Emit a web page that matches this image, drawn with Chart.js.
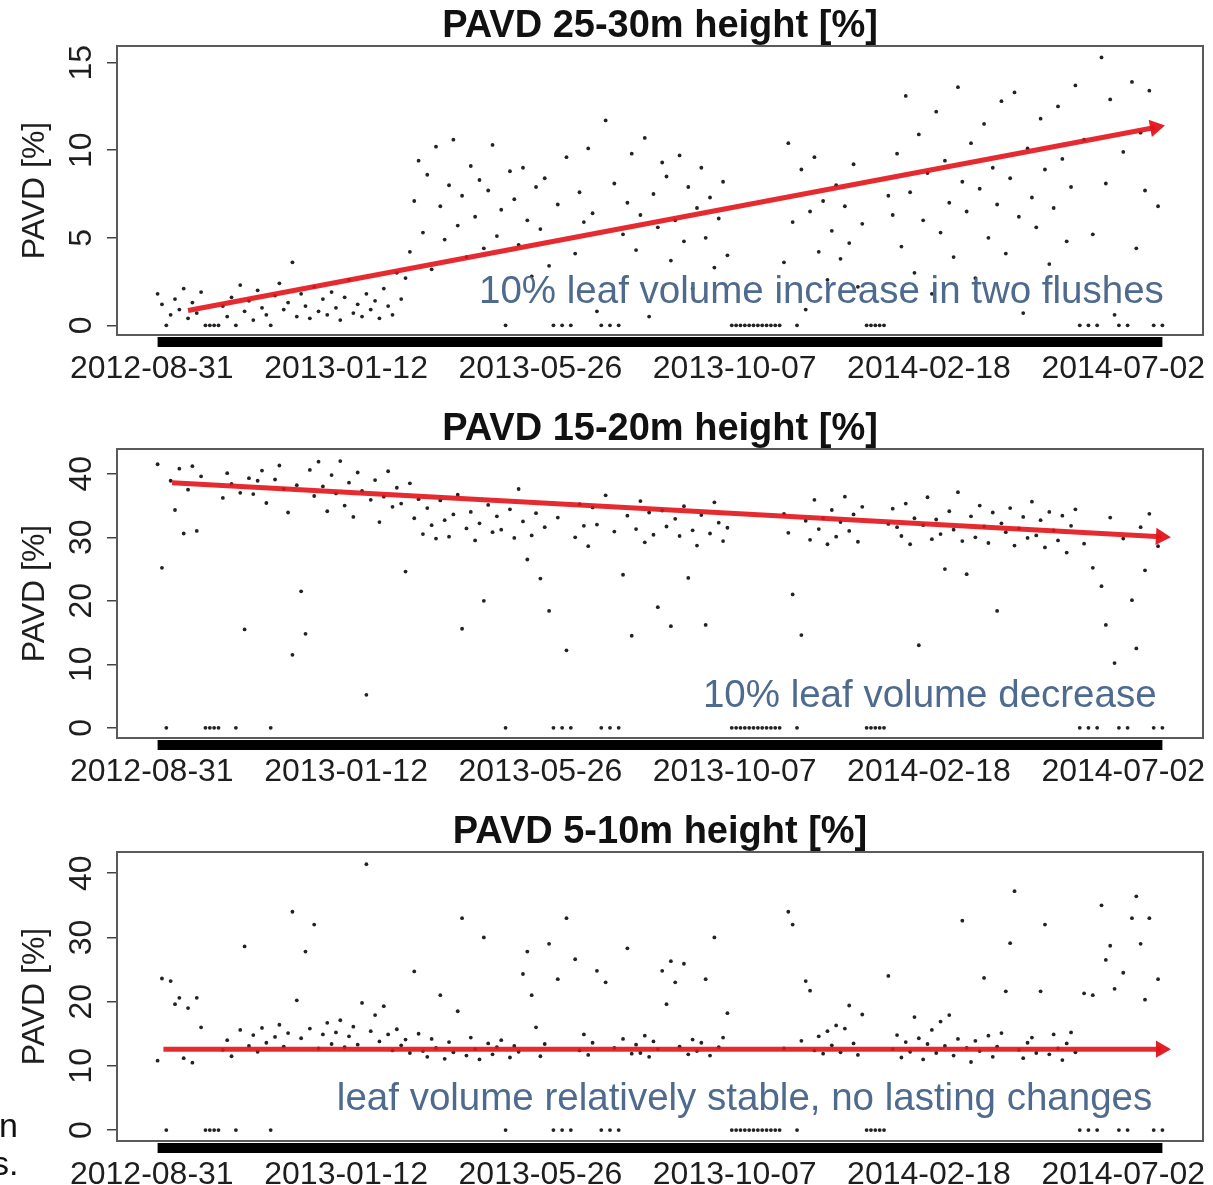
<!DOCTYPE html>
<html>
<head>
<meta charset="utf-8">
<title>PAVD time series</title>
<script src="https://cdn.jsdelivr.net/npm/chart.js@4.4.0/dist/chart.umd.min.js"></script>
<style>
  body { margin: 0; width: 1213px; height: 1185px; overflow: hidden; background: #fff; position: relative; font-family: "Liberation Sans", Arial, sans-serif; }
  .panel { position: absolute; left: 0; width: 1213px; height: 400px; }
  .frag { position: absolute; font-size: 34px; line-height: 34px; color: #111; }
</style>
</head>
<body>
<div class="panel" style="top:0px"><canvas id="c1" width="1213" height="400"></canvas></div>
<div class="panel" style="top:403px"><canvas id="c2" width="1213" height="400"></canvas></div>
<div class="panel" style="top:806px"><canvas id="c3" width="1213" height="400"></canvas></div>
<div class="frag" style="left:-1px; top:1108px">n</div>
<div class="frag" style="left:-8px; top:1146px">s.</div>
<script>
// days since 2012-08-31
var days = [
  4,7,10,13,16,19,22,25,28,31,34,37,40,43,46,49,52,55,58,61,
  64,67,70,73,76,79,82,85,88,91,94,97,100,103,106,109,112,115,118,121,
  124,127,130,133,136,139,142,145,148,151,154,157,160,163,166,169,172,175,178,181,
  184,187,190,193,196,199,202,205,208,211,214,217,220,223,226,229,232,235,238,241,
  244,247,250,253,256,259,262,265,268,271,274,277,280,283,286,289,292,295,298,301,
  304,307,310,313,316,319,322,325,328,331,334,337,340,343,346,349,352,355,358,361,
  364,367,370,373,376,379,382,385,388,391,394,397,400,403,406,409,412,415,418,421,
  424,427,430,433,436,439,442,445,448,451,454,457,460,463,466,469,472,475,478,481,
  484,487,490,493,496,499,502,505,508,511,514,517,520,523,526,529,532,535,538,541,
  544,547,550,553,556,559,562,565,568,571,574,577,580,583,586,589,592,595,598,601,
  604,607,610,613,616,619,622,625,628,631,634,637,640,643,646,649,652,655,658,661,
  664,667,670,673,676,679,682,685,688,691,694,697
];

var pavd2530 = [
  1.8,1.2,0,0.6,1.5,0.9,2.1,0.4,1.3,0.7,1.9,0,0,0,0,1.1,0.5,1.6,0,2.3,
  0.8,1.4,0.3,2.0,1.0,0.6,0,1.7,2.4,0.9,1.3,3.6,0.5,1.8,1.1,0.4,2.2,0.8,1.5,0.6,
  1.9,1.0,0.3,1.6,2.6,0.7,1.2,0.5,1.8,0.9,1.4,0.4,2.1,1.1,0.6,3.0,1.5,2.7,4.2,7.1,
  9.4,5.3,8.6,3.2,10.2,6.8,4.9,8.0,10.6,5.7,7.4,3.9,9.1,6.2,8.3,4.4,7.7,10.3,5.1,6.6,
  0,8.8,7.2,4.6,9.0,6.0,2.8,7.9,5.5,8.4,3.4,0,6.9,0,9.6,0,4.1,7.6,5.9,10.1,
  6.4,0.8,0,11.7,0,8.1,0,5.2,7.0,9.8,4.3,6.3,10.7,0.5,7.5,5.6,9.3,8.5,3.7,6.0,
  9.7,4.8,7.9,2.1,6.7,9.0,5.0,7.3,3.3,6.1,8.2,4.0,0,0,0,0,0,0,0,0,
  0,0,0,0,3.6,10.4,5.9,0,8.9,0.9,6.5,9.6,4.2,7.1,2.6,5.4,8.0,3.8,6.8,4.7,
  9.2,2.2,5.8,0,0,0,0,0,7.4,6.3,9.8,4.5,13.1,7.6,3.0,10.9,6.0,8.7,1.8,12.2,
  5.3,9.4,7.0,3.9,13.6,8.2,6.5,10.4,2.7,7.8,11.5,5.0,9.0,6.9,12.8,4.1,8.4,13.3,6.2,0.7,
  10.1,7.3,5.6,11.8,8.9,3.5,6.7,12.5,9.5,4.8,7.9,13.7,0,10.6,0,5.2,0,15.3,8.1,12.9,
  0.6,0,9.9,0,13.9,4.4,11.0,7.7,13.4,0,6.8,0
];

var pavd1520 = [
  41.5,25.2,0,38.9,34.3,40.8,30.6,37.5,41.2,31.0,39.6,0,0,0,0,36.2,40.1,38.4,0,37.0,
  15.5,39.3,36.8,38.9,40.5,35.4,0,39.1,41.3,37.6,33.9,11.5,38.2,21.5,14.8,40.6,36.5,41.9,38.0,34.1,
  39.8,36.9,42.0,35.0,38.6,33.2,40.2,37.3,5.2,35.9,39.0,32.4,36.4,40.4,34.8,37.8,35.3,24.6,38.5,33.0,
  36.0,30.5,34.6,31.9,29.8,35.8,32.7,30.1,33.6,36.7,15.6,31.4,34.0,29.5,32.2,20.0,35.1,30.8,33.3,31.2,
  0,34.4,29.9,37.6,32.5,26.5,30.3,33.8,23.5,31.6,18.4,0,33.1,0,12.2,0,30.0,35.2,31.8,28.6,
  34.7,32.0,0,36.6,0,30.9,0,24.1,33.4,14.5,31.3,35.7,29.2,33.9,30.4,19.0,34.2,31.7,16.0,32.9,
  30.2,34.9,23.6,31.1,28.7,33.5,16.2,30.6,35.5,32.3,29.4,31.5,0,0,0,0,0,0,0,0,
  0,0,0,0,33.7,30.7,21.0,0,14.6,32.6,29.6,35.9,31.3,33.0,28.9,34.3,30.1,32.4,36.4,31.0,
  33.6,29.3,34.8,0,0,0,0,0,32.1,34.5,31.6,30.2,35.3,28.9,33.0,13.0,31.9,36.3,29.7,32.8,
  30.5,25.0,34.1,31.2,37.1,29.4,24.2,33.3,30.0,35.0,31.7,29.1,33.9,18.4,32.2,30.8,34.6,28.7,31.4,33.2,
  29.9,35.6,30.3,32.7,28.4,34.0,31.1,29.5,33.4,27.6,31.8,34.4,0,29.0,0,25.2,0,22.3,16.2,33.1,
  10.2,0,29.8,0,20.1,12.5,31.6,24.8,33.7,0,28.6,0
];

var pavd0510 = [
  10.8,23.6,0,23.2,19.6,20.6,11.2,19.0,10.5,20.6,16.0,0,0,0,0,12.5,14.0,11.5,0,15.6,
  28.6,13.1,14.8,12.2,15.9,13.6,0,14.5,16.4,13.0,15.1,34.0,20.2,14.3,27.8,15.8,32.0,12.7,14.9,16.7,
  13.4,15.2,17.1,12.9,14.6,16.1,13.3,19.8,41.4,15.4,17.9,13.8,19.3,14.9,12.4,15.7,13.2,14.1,12.0,24.7,
  15.0,12.3,11.4,14.2,12.8,21.0,11.1,13.7,12.1,18.5,33.0,11.6,14.4,12.6,11.0,30.0,13.5,11.8,12.9,14.0,
  0,11.3,13.1,12.2,24.3,27.8,21.0,16.0,11.5,13.4,29.0,0,23.5,0,33.0,0,26.6,12.4,14.9,11.7,
  13.6,24.8,0,23.0,0,12.8,0,14.2,28.3,11.9,13.3,12.0,14.7,11.4,13.8,12.6,24.8,19.6,26.3,23.0,
  13.0,25.9,11.8,14.1,12.3,13.6,23.5,11.6,30.0,12.9,14.4,18.2,0,0,0,0,0,0,0,0,
  0,0,0,0,12.7,34.0,32.0,0,13.9,23.2,21.7,12.4,14.6,11.9,15.4,13.2,16.3,12.1,15.8,19.4,
  13.5,11.7,18.0,0,0,0,0,0,24.0,12.6,14.8,11.3,13.7,12.2,17.6,14.3,11.0,13.4,15.6,12.0,
  16.9,13.1,17.9,11.6,14.2,32.6,12.8,10.6,13.9,12.3,23.7,14.7,11.4,13.0,15.1,21.6,29.1,37.2,12.5,11.2,
  13.6,14.4,12.0,21.6,32.0,11.8,14.9,12.7,10.9,13.5,15.2,12.1,0,21.3,0,21.0,0,35.0,26.5,28.7,
  22.0,0,24.5,0,33.0,36.4,29.0,20.3,33.0,0,23.5,0
];

// trend arrows: start / end day and value
var trend2530 = { days: [25, 692], values: [0.85, 11.3] };
var trend1520 = { days: [14, 696], values: [38.6, 30.1] };
var trend0510 = { days: [8, 696], values: [12.6, 12.6] };

var tickDays = [0, 134, 268, 402, 536, 670];
var tickLabels = ['2012-08-31', '2013-01-12', '2013-05-26', '2013-10-07', '2014-02-18', '2014-07-02'];

var FONT = '"Liberation Sans", Arial, sans-serif';
Chart.defaults.font.family = FONT;
Chart.defaults.color = '#1e1e1e';

// box round the plot, the dense date rug under it and the note text
var framePlugin = {
  id: 'frame',
  afterDatasetsDraw: function (chart, args, opts) {
    var ctx = chart.ctx, x = chart.scales.x, y = chart.scales.y;
    ctx.save();
    ctx.font = '38.5px ' + FONT;
    ctx.fillStyle = '#4e6a8e';
    ctx.textAlign = 'right';
    ctx.textBaseline = 'alphabetic';
    ctx.fillText(opts.note, x.getPixelForValue(opts.noteX), y.getPixelForValue(opts.noteY));
    ctx.restore();
  },
  afterDraw: function (chart) {
    var ctx = chart.ctx, a = chart.chartArea, x = chart.scales.x;
    ctx.save();
    ctx.strokeStyle = '#5a5a5a';
    ctx.lineWidth = 2;
    ctx.strokeRect(a.left, a.top, a.right - a.left, a.bottom - a.top);
    var x0 = x.getPixelForValue(days[0]);
    var x1 = x.getPixelForValue(days[days.length - 1]);
    ctx.fillStyle = '#000';
    ctx.fillRect(x0, a.bottom + 2, x1 - x0, 10);
    ctx.restore();
  }
};

function arrowAngle(ctx) {
  var s = ctx.chart.scales;
  if (!s.x || !s.y) return 90;
  var d = ctx.dataset.data;
  var dx = s.x.getPixelForValue(d[1].x) - s.x.getPixelForValue(d[0].x);
  var dy = s.y.getPixelForValue(d[1].y) - s.y.getPixelForValue(d[0].y);
  return 90 + Math.atan2(dy, dx) * 180 / Math.PI;
}

function makePanel(id, title, values, trend, yMin, yMax, yTicks, note, noteX, noteY) {
  var pts = days.map(function (d, i) { return { x: d, y: values[i] }; });
  var tr = trend.days.map(function (d, i) { return { x: d, y: trend.values[i] }; });
  return new Chart(document.getElementById(id), {
    type: 'scatter',
    data: {
      datasets: [{
        data: tr,
        showLine: true,
        borderColor: 'rgba(226,20,26,0.9)',
        borderWidth: 5,
        pointStyle: 'triangle',
        pointRadius: [0, 10],
        pointRotation: arrowAngle,
        pointBackgroundColor: 'rgba(226,20,26,0.95)',
        pointBorderWidth: 0,
        order: 0
      }, {
        data: pts,
        pointRadius: 1.9,
        pointBackgroundColor: '#222',
        pointBorderWidth: 0,
        order: 1
      }]
    },
    options: {
      responsive: false,
      animation: false,
      events: [],
      layout: { padding: { left: 0, right: 7, top: 0, bottom: 0 } },
      plugins: {
        legend: { display: false },
        tooltip: { enabled: false },
        title: {
          display: true,
          text: title,
          fullSize: false,
          color: '#111',
          font: { size: 38, weight: 'bold', lineHeight: 1 },
          padding: { top: 8, bottom: 0 }
        },
        frame: { note: note, noteX: noteX, noteY: noteY }
      },
      scales: {
        x: {
          type: 'linear',
          min: -24,
          max: 725,
          afterBuildTicks: function (s) { s.ticks = tickDays.map(function (v) { return { value: v }; }); },
          afterFit: function (s) { s.height = 65; s.paddingLeft = 0; s.paddingRight = 0; },
          grid: { display: false, drawTicks: false },
          border: { display: false },
          ticks: {
            font: { size: 32 },
            color: '#1e1e1e',
            padding: 15,
            maxRotation: 0,
            autoSkip: false,
            callback: function (v) { return tickLabels[tickDays.indexOf(v)]; }
          }
        },
        y: {
          min: yMin,
          max: yMax,
          afterBuildTicks: function (s) { s.ticks = yTicks.map(function (v) { return { value: v }; }); },
          afterFit: function (s) { s.width = 117; s.paddingTop = 0; s.paddingBottom = 0; },
          grid: { drawOnChartArea: false, drawTicks: true, tickLength: 10, color: '#444', lineWidth: 1.5 },
          border: { display: false },
          ticks: {
            font: { size: 32 },
            color: '#1e1e1e',
            padding: 7,
            minRotation: 90,
            maxRotation: 90,
            crossAlign: 'center'
          },
          title: {
            display: true,
            text: 'PAVD [%]',
            color: '#1e1e1e',
            font: { size: 32 },
            padding: { top: 16, bottom: 0 }
          }
        }
      }
    },
    plugins: [framePlugin]
  });
}

makePanel('c1', 'PAVD 25-30m height [%]', pavd2530, trend2530, -0.55, 15.95, [0, 5, 10, 15],
  '10% leaf volume increase in two flushes', 698, 1.25);
makePanel('c2', 'PAVD 15-20m height [%]', pavd1520, trend1520, -1.6, 43.9, [0, 10, 20, 30, 40],
  '10% leaf volume decrease', 693, 3.3);
makePanel('c3', 'PAVD 5-10m height [%]', pavd0510, trend0510, -1.7, 43.3, [0, 10, 20, 30, 40],
  'leaf volume relatively stable, no lasting changes', 690, 3.1);
</script>
</body>
</html>
